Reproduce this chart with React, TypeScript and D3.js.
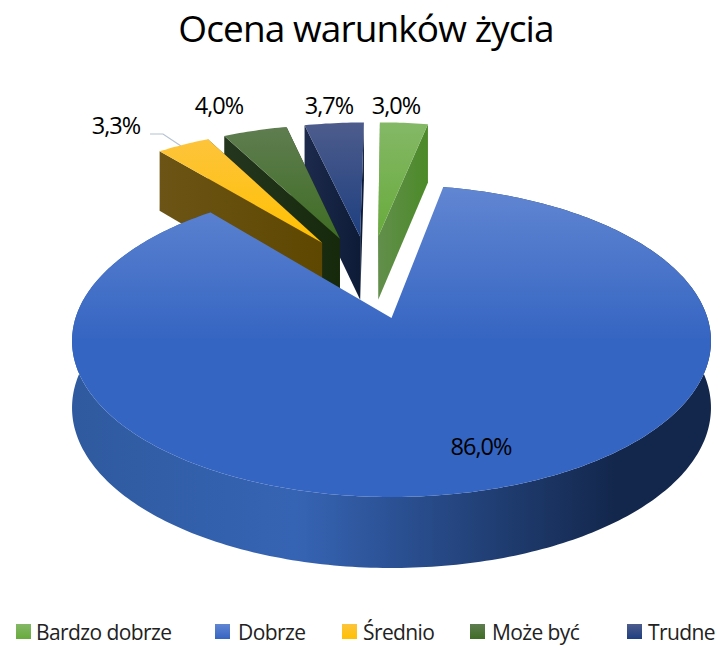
import React from "react";
import * as d3 from "d3";

const title = "Ocena warunków życia";
const categories = ["Bardzo dobrze", "Dobrze", "Średnio", "Może być", "Trudne"];
const shares = [3.0, 86.0, 3.3, 4.0, 3.7];
const valueLabels = ["3,0%", "86,0%", "3,3%", "4,0%", "3,7%"];
const topColors = [["#84b866", "#68ab3c"], ["#6186d2", "#3565c2"], ["#fdc43c", "#ffc000"], ["#5f7d50", "#3f6d24"], ["#4d5c8c", "#1e3f80"]];
const wallColors = [["#628f4c", "#4c8a28"], ["#3664b4", "#13274c"], ["#6c5416", "#5e4700"], ["#24361e", "#17290b"], ["#1d2a4c", "#0c1a36"]];
const paintOrder = [4, 3, 2, 0, 1];
const labelPlaces: [number, number][] = [[396, 114], [481, 455], [116, 134], [219, 114], [329, 114]];
const legendSwatch = [16, 215, 342, 470, 627];
const legendText = [36, 238, 363, 492, 648];

const CX = 391.5, CY = 341, RX = 316, RY = 156, B = -0.147, EXPLODE = 0.295;

const arcs = d3.pie<number>().sort(null).startAngle(0).endAngle(2 * Math.PI)(shares);
const dirs = arcs.map((a) => {
  const m = (a.startAngle + a.endAngle) / 2;
  return [Math.sin(m), -Math.cos(m)];
});
const anchor = dirs[1];

function project(x: number, y: number, drop: boolean): [number, number] {
  const w = 1 + B * y;
  const sx = CX + (RX * x) / w;
  const sy = CY + (RY * (y + B)) / w;
  return [sx, drop ? sy + 66 + 5 * y : sy];
}

const line = d3.line<[number, number]>().x((d) => d[0]).y((d) => d[1]);

function slicePaths(i: number) {
  const a = arcs[i];
  const ox = EXPLODE * (dirs[i][0] - anchor[0]);
  const oy = EXPLODE * (dirs[i][1] - anchor[1]);
  const n = Math.max(6, Math.ceil((a.endAngle - a.startAngle) * 60));
  const thetas = d3.range(n + 1).map((k) => a.startAngle + ((a.endAngle - a.startAngle) * k) / n);
  const rim = (drop: boolean) => thetas.map((t) => project(ox + Math.sin(t), oy - Math.cos(t), drop));
  const apexT = project(ox, oy, false);
  const apexB = project(ox, oy, true);
  const rimT = rim(false);
  const rimB = rim(true);
  const top = line([apexT, ...rimT])! + "Z";
  const outer = line([...rimT, ...rimB.slice().reverse()])! + "Z";
  const wallA = line([apexT, rimT[0], rimB[0], apexB])! + "Z";
  const wallB = line([apexT, rimT[n], rimB[n], apexB])! + "Z";
  const ys = rimT.map((p) => p[1]).concat(apexT[1]);
  const xs = rimB.map((p) => p[0]).concat(apexT[0]);
  return { top, outer, wallA, wallB, y0: d3.min(ys)!, y1: d3.max(ys)!, x0: d3.min(xs)!, x1: d3.max(xs)! };
}

const FONT = "'Open Sans', 'Noto Sans', sans-serif";

export default function App() {
  const slices = categories.map((_, i) => slicePaths(i));
  return (
    <svg width={723} height={646} style={{ position: "absolute", left: 0, top: 0, background: "#fff" }} fontFamily={FONT}>
      <defs>
        {categories.map((_, i) => (
          <React.Fragment key={i}>
            <linearGradient id={`top${i}`} gradientUnits="userSpaceOnUse" x1={0} x2={0} y1={slices[i].y0} y2={i === 1 ? 340 : slices[i].y1}>
              <stop offset="0" stopColor={topColors[i][0]} />
              <stop offset="1" stopColor={topColors[i][1]} />
            </linearGradient>
            <linearGradient id={`wall${i}`} gradientUnits="userSpaceOnUse" x1={slices[i].x0} x2={slices[i].x1} y1={0} y2={0}>
              {i === 1 && <stop offset="0" stopColor="#2f5a9f" />}
              <stop offset={i === 1 ? 0.35 : 0} stopColor={wallColors[i][0]} />
              <stop offset={i === 1 ? 0.85 : 1} stopColor={wallColors[i][1]} />
            </linearGradient>
            <linearGradient id={`sw${i}`} x1={0} x2={0} y1={0} y2={1}>
              <stop offset="0" stopColor={topColors[i][0]} />
              <stop offset="1" stopColor={topColors[i][1]} />
            </linearGradient>
          </React.Fragment>
        ))}
      </defs>
      <text x={366} y={42} textAnchor="middle" fontSize={37} fill="#000" letterSpacing={-0.9}>{title}</text>
      <polyline points="150,134 163,134 181,146" fill="none" stroke="#b5c2d2" strokeWidth={1.2} />
      {paintOrder.map((i) => (
        <g key={i}>
          {i === 1 && <path d={slices[i].outer} fill={`url(#wall${i})`} />}
          {i !== 1 && <path d={slices[i].wallA} fill={`url(#wall${i})`} />}
          {i !== 1 && <path d={slices[i].wallB} fill={`url(#wall${i})`} />}
          <path d={slices[i].top} fill={`url(#top${i})`} />
        </g>
      ))}
      {valueLabels.map((t, i) => (
        <text key={t} x={labelPlaces[i][0]} y={labelPlaces[i][1]} textAnchor="middle" fontSize={23.5} letterSpacing={-1} fill="#000">{t}</text>
      ))}
      {categories.map((c, i) => (
        <g key={c}>
          <rect x={legendSwatch[i]} y={624} width={15} height={15} fill={`url(#sw${i})`} />
          <text x={legendText[i]} y={640} fontSize={21} letterSpacing={-0.6} fill="#222">{c}</text>
        </g>
      ))}
    </svg>
  );
}
